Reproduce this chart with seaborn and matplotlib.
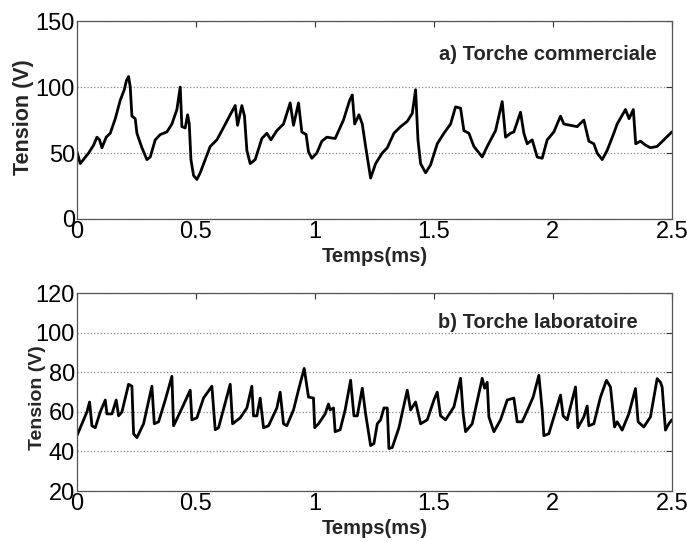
import matplotlib
matplotlib.use("Agg")
import matplotlib.pyplot as plt
import seaborn as sns
import pandas as pd
from matplotlib.ticker import FormatStrFormatter

# a) commercial torch - voltage trace
t_com = [0.0, 0.014, 0.049, 0.07, 0.084, 0.095, 0.105, 0.123, 0.14, 0.161, 0.182, 0.199, 0.208, 0.217,
         0.224, 0.231, 0.245, 0.252, 0.273, 0.294, 0.308, 0.329, 0.35, 0.378, 0.399, 0.42, 0.434,
         0.441, 0.455, 0.465, 0.472, 0.479, 0.49, 0.504, 0.518, 0.539, 0.56, 0.588, 0.609, 0.644,
         0.665, 0.675, 0.693, 0.704, 0.714, 0.728, 0.749, 0.777, 0.798, 0.815, 0.84, 0.868, 0.896,
         0.91, 0.931, 0.945, 0.963, 0.973, 0.987, 1.008, 1.029, 1.05, 1.085, 1.12, 1.146, 1.157,
         1.167, 1.185, 1.199, 1.213, 1.234, 1.255, 1.283, 1.304, 1.332, 1.36, 1.388, 1.409, 1.423,
         1.433, 1.444, 1.465, 1.486, 1.514, 1.542, 1.57, 1.591, 1.612, 1.626, 1.647, 1.668, 1.703,
         1.724, 1.759, 1.787, 1.801, 1.822, 1.836, 1.864, 1.878, 1.892, 1.913, 1.934, 1.955, 1.976,
         2.004, 2.032, 2.046, 2.074, 2.102, 2.13, 2.151, 2.172, 2.186, 2.207, 2.228, 2.256, 2.27,
         2.305, 2.32, 2.338, 2.348, 2.368, 2.389, 2.41, 2.438, 2.466, 2.5]
v_com = [51, 42, 50, 56, 62, 60, 54, 62, 65, 76, 90, 98, 105, 108,
         100, 78, 76, 65, 54, 45, 47, 60, 64, 66, 72, 83, 100,
         70, 69, 79, 72, 45, 33, 30, 35, 45, 55, 60, 67, 79,
         86, 71, 86, 78, 52, 42, 45, 61, 65, 60, 67, 72, 88,
         71, 88, 66, 64, 51, 46, 50, 59, 62, 61, 75, 90, 94,
         72, 79, 72, 55, 31, 42, 50, 54, 65, 70, 74, 80, 98,
         60, 42, 35, 41, 57, 65, 72, 85, 84, 67, 65, 55, 47,
         55, 67, 89, 62, 65, 66, 81, 65, 57, 60, 47, 46, 60,
         66, 78, 72, 71, 70, 75, 59, 57, 50, 45, 52, 65, 72,
         83, 76, 83, 57, 59, 56, 54, 55, 60, 66]

# b) laboratory torch
t_lab = [0.0, 0.021, 0.042, 0.053, 0.063, 0.077, 0.098, 0.119, 0.126, 0.147, 0.165, 0.175, 0.189,
         0.217, 0.231, 0.238, 0.252, 0.28, 0.315, 0.325, 0.343, 0.371, 0.399, 0.406, 0.434, 0.476,
         0.483, 0.504, 0.532, 0.567, 0.581, 0.595, 0.644, 0.654, 0.686, 0.714, 0.735, 0.742, 0.756,
         0.77, 0.784, 0.805, 0.84, 0.854, 0.868, 0.882, 0.91, 0.935, 0.955, 0.973, 0.994, 0.999,
         1.015, 1.043, 1.057, 1.064, 1.078, 1.085, 1.106, 1.127, 1.15, 1.164, 1.178, 1.199, 1.213,
         1.234, 1.248, 1.262, 1.276, 1.29, 1.304, 1.311, 1.325, 1.353, 1.388, 1.402, 1.423, 1.444,
         1.472, 1.5, 1.514, 1.528, 1.549, 1.584, 1.612, 1.623, 1.633, 1.661, 1.703, 1.713, 1.724,
         1.731, 1.752, 1.78, 1.808, 1.836, 1.85, 1.871, 1.899, 1.917, 1.941, 1.955, 1.962, 1.983,
         2.032, 2.043, 2.06, 2.095, 2.105, 2.13, 2.144, 2.151, 2.172, 2.2, 2.225, 2.242, 2.259,
         2.27, 2.291, 2.319, 2.347, 2.358, 2.382, 2.41, 2.438, 2.452, 2.459, 2.473, 2.487, 2.5]
v_lab = [48, 54, 60, 65, 53, 52, 60, 66, 59, 59, 66, 58, 60,
         74, 73, 49, 47, 54, 73, 54, 55, 66, 78, 53, 60, 71,
         56, 57, 67, 73, 51, 52, 74, 54, 57, 62, 73, 58, 58,
         67, 52, 53, 62, 70, 54, 53, 61, 73, 82, 67.5, 67, 52,
         54, 59, 64, 61, 62, 50, 51, 61, 76, 58, 58, 72, 59,
         43, 44, 54, 56, 62, 62, 41.5, 42, 52, 71, 61, 65, 54,
         56, 66, 70, 58, 56, 62.5, 77, 59, 50, 54, 77, 72, 75,
         57.5, 50, 56, 66, 67, 55, 55, 62.5, 67.5, 78.5, 61, 48, 49,
         68.5, 58, 56, 72.6, 52, 57.5, 63, 53, 54, 67.5, 76, 72.6, 52.4,
         55, 50.8, 59, 71.8, 55, 52.4, 57.5, 76.8, 75, 72.6, 50.8, 54, 56]

xticks = [0, 0.5, 1, 1.5, 2, 2.5]

sns.set_theme(style="white")
plt.rcParams['font.family'] = ['Liberation Sans', 'DejaVu Sans']

fig = plt.figure(figsize=(6.87, 5.42), dpi=100)
ax1 = fig.add_axes([0.112, 0.596, 0.866, 0.365])
ax2 = fig.add_axes([0.112, 0.094, 0.866, 0.365])

# axis, x, y, ylim, yticks, panel label, label x/y, ylabel x/y, ylabel size
panels = [
    (ax1, t_com, v_com, (0, 150), [0, 50, 100, 150], "a) Torche commerciale", 0.975, 0.83, -0.089, 0.513, 15.5),
    (ax2, t_lab, v_lab, (20, 120), [20, 40, 60, 80, 100, 120], "b) Torche laboratoire", 0.943, 0.85, -0.066, 0.47, 14),
]

for ax, t, v, ylim, yticks, label, tx, ty, ylx, yly, ylsize in panels:
    df = pd.DataFrame({'t': t, 'v': v})
    sns.lineplot(data=df, x='t', y='v', ax=ax, color='black', linewidth=2.0)
    ax.set_xlim(0, 2.5)
    ax.set_ylim(*ylim)
    ax.set_xticks(xticks)
    ax.set_yticks(yticks)
    ax.xaxis.set_major_formatter(FormatStrFormatter('%g'))
    ax.grid(axis='y', linestyle=':', color='#888888', linewidth=0.9)
    ax.tick_params(direction='in', top=True, right=True, length=4, width=0.8,
                   labelsize=17, colors='#333333', labelcolor='black', pad=1.5)
    for s in ax.spines.values():
        s.set_color('#555555')
        s.set_linewidth(0.9)
    ax.set_xlabel('Temps(ms)', fontsize=14.5, fontweight='bold', labelpad=3)
    ax.set_ylabel('Tension (V)', fontsize=ylsize, fontweight='bold', va='center')
    ax.yaxis.set_label_coords(ylx, yly)
    ax.text(tx, ty, label, transform=ax.transAxes, ha='right', va='center',
            fontsize=14.5, fontweight='bold')

fig.savefig('out.png', dpi=100)
